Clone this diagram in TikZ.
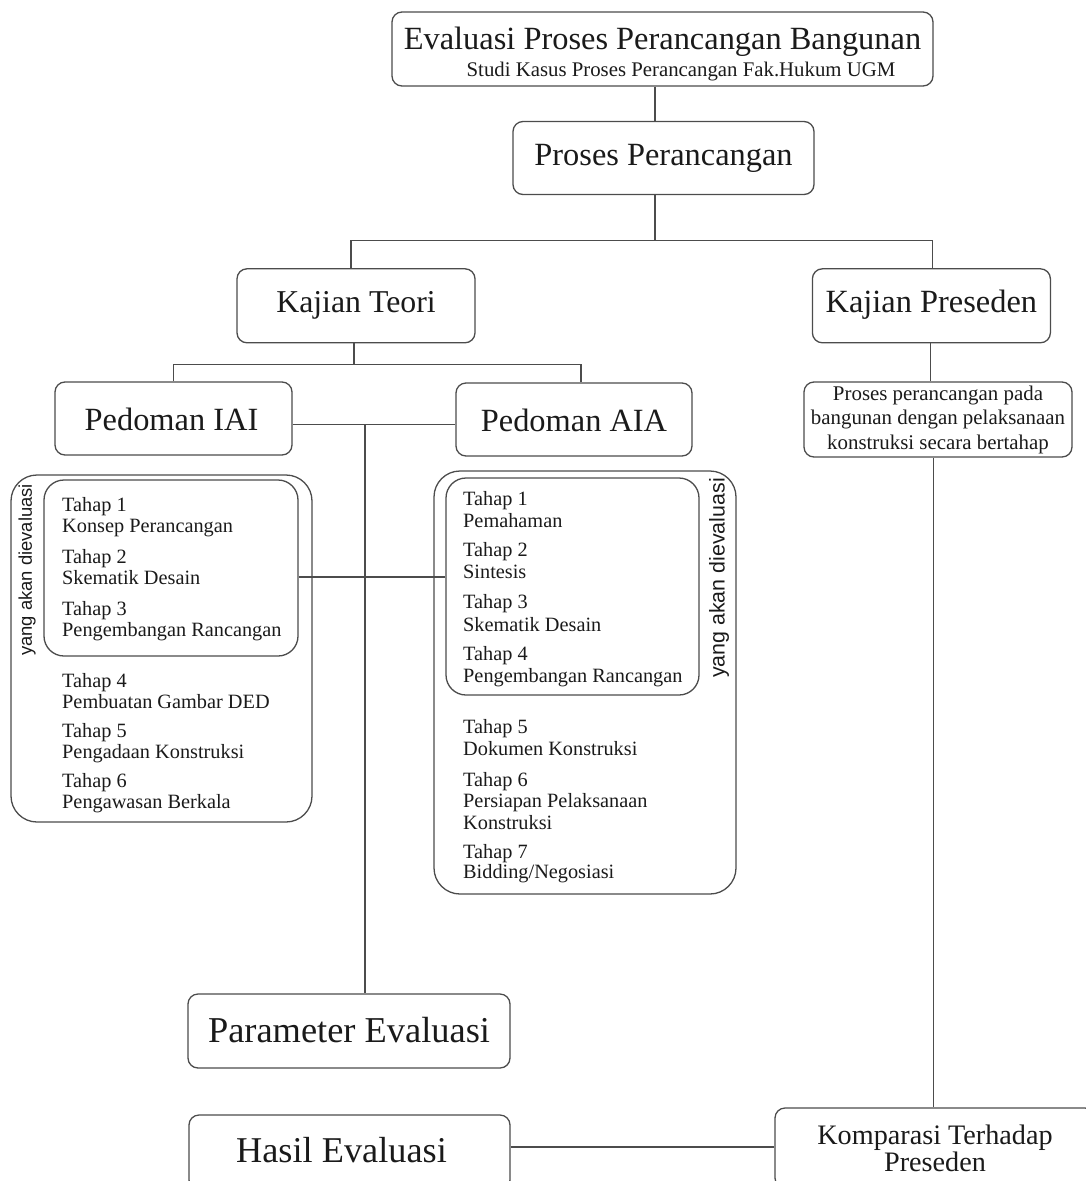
\documentclass[tikz,border=0pt]{standalone}
\usepackage{fontspec}
\setmainfont{Liberation Serif}
\newfontfamily\arialfont{Liberation Sans}
\definecolor{linecol}{HTML}{4C4C4C}
\definecolor{txtcol}{HTML}{1A1A1A}
\tikzset{
  box/.style={draw=linecol, line width=1.3pt, rounded corners=10pt, inner sep=0pt, text=txtcol},
  bigbox/.style={draw=linecol, line width=1.3pt, rounded corners=26pt, inner sep=0pt},
  midbox/.style={draw=linecol, line width=1.3pt, rounded corners=20pt, inner sep=0pt},
  conn/.style={draw=linecol, line width=1.3pt},
  txt/.style={inner sep=0pt, text=txtcol},
  itemtxt/.style={anchor=base west, inner sep=0pt, text=txtcol, font=\fontsize{20.3}{24}\selectfont},
  vtxt/.style={rotate=90, inner sep=0pt, text=txtcol},
  bigfont/.style={font=\fontsize{32.4}{36}\selectfont},
}
\begin{document}
\begin{tikzpicture}[x=1pt,y=-1pt]
\useasboundingbox (0,0) rectangle (1086,1181);
\clip (0,0) rectangle (1086,1181);

% main boxes
\node[box, bigfont, minimum width=541pt, minimum height=74pt, text height=1pt, text depth=0pt] (title) at (662.5,49) {Evaluasi Proses Perancangan Bangunan};
\node[txt, anchor=base, font=\fontsize{20.8}{24}\selectfont] (subtitle) at (681,76) {Studi Kasus Proses Perancangan Fak.Hukum UGM};
\node[box, bigfont, minimum width=301pt, minimum height=73pt, text height=14pt, text depth=0pt] (proses) at (663.5,158) {Proses Perancangan};
\node[box, font=\fontsize{31.8}{36}\selectfont, minimum width=238pt, minimum height=74pt, text height=14pt, text depth=0pt] (teori) at (356,305.8) {Kajian Teori};
\node[box, bigfont, minimum width=238pt, minimum height=74pt, text height=14pt, text depth=0pt] (preseden) at (931.4,305.8) {Kajian Preseden};
\node[box, bigfont, minimum width=237pt, minimum height=73pt, text height=23pt, text depth=0pt] (iai) at (173.5,418.5) {Pedoman IAI\hspace*{4pt}};
\node[box, bigfont, minimum width=236pt, minimum height=73pt, text height=23pt, text depth=0pt] (aia) at (574,419.5) {Pedoman AIA};
\node[box, align=center, font=\fontsize{20.9}{24.5}\selectfont, minimum width=268pt, minimum height=75pt] (pdesc) at (938,419.5) {Proses perancangan pada\\bangunan dengan pelaksanaan\\konstruksi secara bertahap};
\node[box, font=\fontsize{36.4}{40}\selectfont, minimum width=322pt, minimum height=74pt, text height=23.4pt, text depth=0pt] (param) at (349,1031) {Parameter Evaluasi};
\node[box, font=\fontsize{36.3}{40}\selectfont, minimum width=321pt, minimum height=75pt, text height=20.4pt, text depth=0pt] (hasil) at (349.5,1152.5) {Hasil Evaluasi\hspace*{16pt}};
\node[box, align=center, font=\fontsize{28.2}{27}\selectfont, minimum width=320pt, minimum height=80pt] (komp) at (935,1148) {Komparasi Terhadap\\Preseden};

% IAI group
\node[bigbox, minimum width=301pt, minimum height=347pt] (iaiout) at (161.5,648.5) {};
\node[midbox, minimum width=254pt, minimum height=176pt] (iaiin) at (171,568) {};
\node[vtxt, font=\arialfont\fontsize{18.4}{20}\selectfont] (iaiv) at (27,570) {yang akan dievaluasi};
\node[itemtxt] (i1a) at (62,511) {Tahap 1};
\node[itemtxt] (i1b) at (62,532.5) {Konsep Perancangan};
\node[itemtxt] (i2a) at (62,563) {Tahap 2};
\node[itemtxt] (i2b) at (62,584.5) {Skematik Desain};
\node[itemtxt] (i3a) at (62,615) {Tahap 3};
\node[itemtxt] (i3b) at (62,636.5) {Pengembangan Rancangan};
\node[itemtxt] (i4a) at (62,687) {Tahap 4};
\node[itemtxt] (i4b) at (62,708.5) {Pembuatan Gambar DED};
\node[itemtxt] (i5a) at (62,737) {Tahap 5};
\node[itemtxt] (i5b) at (62,758.5) {Pengadaan Konstruksi};
\node[itemtxt] (i6a) at (62,787) {Tahap 6};
\node[itemtxt] (i6b) at (62,808.5) {Pengawasan Berkala};

% AIA group
\node[bigbox, minimum width=302pt, minimum height=423pt] (aiaout) at (585,682.5) {};
\node[midbox, minimum width=253pt, minimum height=217pt] (aiain) at (572.5,586.5) {};
\node[vtxt, font=\arialfont\fontsize{21.4}{24}\selectfont] (aiav) at (719,578) {yang akan dievaluasi};
\node[itemtxt] (a1a) at (463,505) {Tahap 1};
\node[itemtxt] (a1b) at (463,527) {Pemahaman};
\node[itemtxt] (a2a) at (463,556.5) {Tahap 2};
\node[itemtxt] (a2b) at (463,578) {Sintesis};
\node[itemtxt] (a3a) at (463,608.5) {Tahap 3};
\node[itemtxt] (a3b) at (463,631) {Skematik Desain};
\node[itemtxt] (a4a) at (463,660.5) {Tahap 4};
\node[itemtxt] (a4b) at (463,682.5) {Pengembangan Rancangan};
\node[itemtxt] (a5a) at (463,733) {Tahap 5};
\node[itemtxt] (a5b) at (463,755) {Dokumen Konstruksi};
\node[itemtxt] (a6a) at (463,786) {Tahap 6};
\node[itemtxt] (a6b) at (463,807.5) {Persiapan Pelaksanaan};
\node[itemtxt] (a6c) at (463,829.5) {Konstruksi};
\node[itemtxt] (a7a) at (463,858) {Tahap 7};
\node[itemtxt] (a7b) at (463,878.5) {Bidding/Negosiasi};

% connectors
\coordinate (tx) at (655,0);
\coordinate (j1) at (655,240.5);
\coordinate (kt) at (351,0);
\coordinate (kp) at (932.5,0);
\draw[conn] (tx |- title.south) -- (tx |- proses.north);
\draw[conn] (tx |- proses.south) -- (j1);
\draw[conn] (kt |- teori.north) |- (j1) -| (kp |- preseden.north);

\coordinate (j2) at (354,364.5);
\coordinate (ax) at (581,0);
\draw[conn] (j2 |- teori.south) -- (j2);
\draw[conn] (iai.north) |- (j2) -| (ax |- aia.north);

\coordinate (hy) at (365,424.5);
\draw[conn] (iai.east |- hy) -- (aia.west |- hy);
\draw[conn] (hy) -- (hy |- param.north);

\coordinate (cy) at (0,577);
\draw[conn] (iaiin.east |- cy) -- (aiain.west |- cy);

\coordinate (px) at (930.5,0);
\draw[conn] (px |- preseden.south) -- (px |- pdesc.north);
\coordinate (qx) at (933.5,0);
\draw[conn] (qx |- pdesc.south) -- (qx |- komp.north);

\coordinate (hk) at (0,1147);
\draw[conn] (hasil.east |- hk) -- (komp.west |- hk);
\end{tikzpicture}
\end{document}
